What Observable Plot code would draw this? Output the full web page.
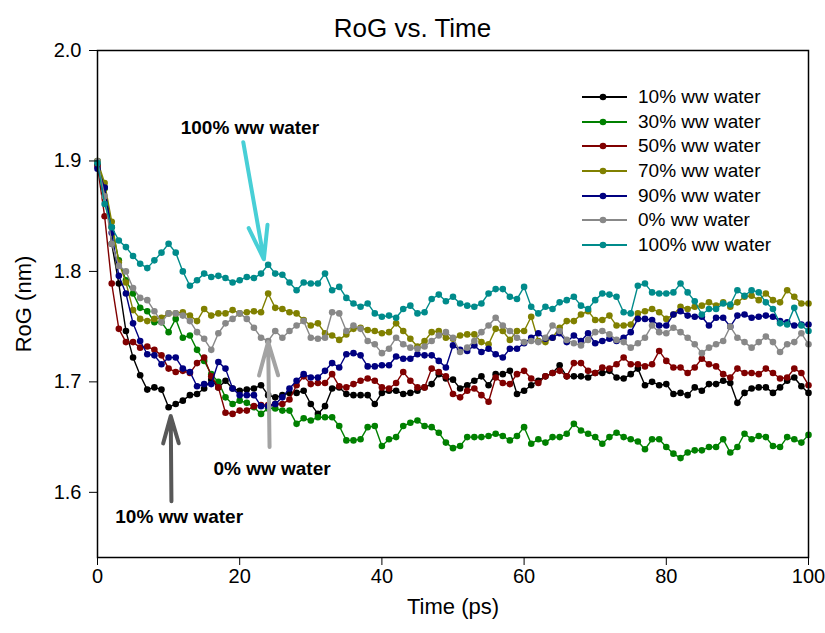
<!DOCTYPE html>
<html>
<head>
<meta charset="utf-8">
<script src="https://cdn.jsdelivr.net/npm/d3@7"></script>
<script src="https://cdn.jsdelivr.net/npm/@observablehq/plot@0.6"></script>
<style>
  body { margin: 0; background: #fff; font-family: Arial, "Liberation Sans", sans-serif; }
  #wrap { position: relative; width: 825px; height: 633px; overflow: hidden; }
  #title { position: absolute; left: 0; width: 825px; top: 15px; text-align: center; font-size: 26px; line-height: 26px; color: #000; }
  #chart { position: absolute; left: 0; top: 40px; }
  #legend { position: absolute; left: 582px; top: 85px; }
  .row { display: flex; align-items: center; height: 24.6px; font-size: 19px; color: #000; white-space: nowrap; }
  .row svg { display: block; margin-right: 11px; }
</style>
</head>
<body>
<div id="wrap">
  <div id="title">RoG vs. Time</div>
  <div id="chart"></div>
  <div id="legend"></div>
</div>
<script>
const time = [0,1,2,3,4,5,6,7,8,9,10,11,12,13,14,15,16,17,18,19,20,21,22,23,24,25,26,27,28,29,30,31,32,33,34,35,36,37,38,39,40,41,42,43,44,45,46,47,48,49,50,51,52,53,54,55,56,57,58,59,60,61,62,63,64,65,66,67,68,69,70,71,72,73,74,75,76,77,78,79,80,81,82,83,84,85,86,87,88,89,90,91,92,93,94,95,96,97,98,99,100];

const seriesNames = ["10% ww water","30% ww water","50% ww water","70% ww water","90% ww water","0% ww water","100% ww water"];
const seriesColors = ["#000000","#008000","#800000","#808000","#000080","#888888","#008b8b"];

const rog10 = [1.897,1.876,1.825,1.789,1.746,1.722,1.706,1.693,1.695,1.693,
1.677,1.680,1.683,1.688,1.689,1.694,1.702,1.695,1.701,1.694,
1.692,1.693,1.694,1.697,1.688,1.686,1.688,1.690,1.690,1.692,
1.680,1.671,1.678,1.694,1.695,1.689,1.688,1.688,1.688,1.680,
1.690,1.692,1.692,1.689,1.690,1.692,1.695,1.698,1.707,1.703,
1.702,1.694,1.697,1.701,1.705,1.697,1.707,1.707,1.710,1.689,
1.692,1.697,1.701,1.705,1.708,1.715,1.705,1.705,1.705,1.704,
1.708,1.708,1.710,1.704,1.703,1.707,1.712,1.697,1.700,1.697,
1.698,1.689,1.690,1.688,1.695,1.692,1.698,1.698,1.701,1.699,
1.681,1.690,1.694,1.695,1.695,1.690,1.695,1.701,1.704,1.696,
1.690];

const rog30 = [1.900,1.875,1.840,1.810,1.792,1.780,1.767,1.764,1.754,1.754,
1.745,1.757,1.740,1.742,1.729,1.719,1.707,1.700,1.686,1.680,
1.683,1.681,1.677,1.671,1.676,1.676,1.674,1.674,1.662,1.667,
1.665,1.668,1.668,1.668,1.660,1.647,1.647,1.648,1.659,1.660,
1.642,1.648,1.650,1.660,1.663,1.665,1.660,1.659,1.654,1.645,
1.640,1.642,1.650,1.650,1.650,1.651,1.653,1.651,1.647,1.651,
1.659,1.644,1.648,1.645,1.650,1.650,1.653,1.662,1.656,1.653,
1.650,1.644,1.650,1.654,1.650,1.648,1.646,1.639,1.648,1.648,
1.641,1.635,1.631,1.636,1.638,1.638,1.641,1.641,1.648,1.636,
1.641,1.653,1.648,1.651,1.650,1.642,1.641,1.650,1.648,1.645,
1.652];

const rog50 = [1.895,1.850,1.789,1.748,1.736,1.736,1.731,1.732,1.729,1.724,
1.712,1.709,1.710,1.708,1.717,1.722,1.705,1.695,1.672,1.671,
1.674,1.674,1.678,1.679,1.679,1.680,1.680,1.684,1.697,1.705,
1.698,1.699,1.699,1.707,1.696,1.695,1.698,1.701,1.703,1.701,
1.695,1.694,1.699,1.709,1.701,1.695,1.695,1.712,1.709,1.705,
1.689,1.686,1.692,1.694,1.688,1.682,1.704,1.699,1.698,1.707,
1.710,1.703,1.699,1.705,1.708,1.710,1.705,1.717,1.717,1.710,
1.708,1.713,1.712,1.716,1.722,1.716,1.716,1.714,1.716,1.728,
1.719,1.713,1.713,1.708,1.713,1.721,1.716,1.714,1.707,1.704,
1.712,1.708,1.708,1.707,1.712,1.708,1.703,1.704,1.712,1.708,
1.697];

const rog70 = [1.900,1.880,1.845,1.808,1.790,1.765,1.757,1.755,1.757,1.758,
1.762,1.762,1.763,1.760,1.755,1.766,1.760,1.762,1.762,1.765,
1.762,1.763,1.764,1.763,1.780,1.767,1.766,1.763,1.762,1.756,
1.751,1.753,1.744,1.742,1.738,1.743,1.748,1.749,1.747,1.746,
1.744,1.745,1.753,1.746,1.739,1.732,1.737,1.745,1.746,1.740,
1.739,1.742,1.743,1.743,1.736,1.734,1.748,1.746,1.738,1.746,
1.746,1.759,1.737,1.736,1.740,1.749,1.755,1.755,1.761,1.764,
1.756,1.756,1.760,1.751,1.751,1.752,1.762,1.764,1.766,1.763,
1.757,1.761,1.768,1.766,1.768,1.769,1.772,1.769,1.772,1.768,
1.772,1.777,1.778,1.774,1.780,1.774,1.772,1.783,1.777,1.771,
1.771];

const rog90 = [1.893,1.876,1.835,1.796,1.780,1.753,1.737,1.725,1.724,1.716,
1.722,1.722,1.712,1.709,1.696,1.698,1.698,1.718,1.712,1.694,
1.688,1.688,1.688,1.678,1.678,1.680,1.686,1.694,1.701,1.707,
1.704,1.704,1.710,1.717,1.713,1.725,1.726,1.724,1.714,1.714,
1.715,1.715,1.723,1.721,1.721,1.725,1.724,1.724,1.719,1.713,
1.733,1.729,1.728,1.733,1.727,1.730,1.725,1.722,1.730,1.730,
1.735,1.740,1.744,1.739,1.740,1.744,1.736,1.742,1.737,1.744,
1.735,1.737,1.739,1.737,1.740,1.745,1.757,1.757,1.756,1.751,
1.751,1.761,1.764,1.760,1.759,1.759,1.751,1.758,1.758,1.750,
1.760,1.761,1.758,1.759,1.760,1.759,1.755,1.754,1.751,1.752,
1.752];

const rog0 = [1.900,1.868,1.825,1.805,1.800,1.785,1.776,1.774,1.764,1.754,
1.762,1.762,1.760,1.755,1.745,1.739,1.729,1.744,1.753,1.757,
1.762,1.757,1.749,1.740,1.737,1.746,1.740,1.746,1.751,1.755,
1.740,1.739,1.740,1.763,1.762,1.746,1.751,1.748,1.737,1.734,
1.726,1.730,1.740,1.734,1.731,1.730,1.732,1.737,1.742,1.745,
1.740,1.727,1.731,1.737,1.745,1.751,1.758,1.751,1.746,1.740,
1.736,1.737,1.736,1.740,1.751,1.746,1.738,1.735,1.733,1.738,
1.745,1.746,1.743,1.738,1.736,1.731,1.735,1.740,1.751,1.745,
1.744,1.749,1.745,1.740,1.734,1.726,1.731,1.734,1.737,1.750,
1.740,1.736,1.731,1.736,1.741,1.736,1.727,1.734,1.736,1.744,
1.734];

const rog100 = [1.898,1.861,1.840,1.828,1.822,1.814,1.807,1.803,1.810,1.817,
1.825,1.817,1.800,1.787,1.792,1.798,1.795,1.796,1.794,1.790,
1.792,1.795,1.794,1.798,1.806,1.798,1.797,1.790,1.783,1.790,
1.789,1.789,1.798,1.783,1.786,1.776,1.771,1.768,1.771,1.762,
1.759,1.760,1.758,1.766,1.769,1.762,1.763,1.775,1.779,1.773,
1.777,1.771,1.769,1.768,1.771,1.780,1.784,1.784,1.777,1.775,
1.786,1.768,1.762,1.768,1.766,1.772,1.774,1.777,1.769,1.766,
1.774,1.780,1.779,1.777,1.763,1.762,1.787,1.789,1.781,1.780,
1.780,1.781,1.789,1.781,1.773,1.761,1.766,1.766,1.771,1.770,
1.783,1.778,1.783,1.781,1.772,1.766,1.753,1.752,1.767,1.751,
1.746];

const seriesValues = [rog10, rog30, rog50, rog70, rog90, rog0, rog100];

const xTicks = [0, 20, 40, 60, 80, 100];
const yTicks = [1.6, 1.7, 1.8, 1.9, 2.0];
const xDomain = [0, 100];
const yDomain = [1.541, 2.0];

// annotations (data units)
const annLabels = ["100% ww water", "0% ww water", "10% ww water"];
const annTextX = [11.7, 16.3, 2.5];
const annTextY = [1.930, 1.621, 1.578];
const arrowX1 = [20.5, 24.2, 10.4];
const arrowY1 = [1.917, 1.641, 1.592];
const arrowX2 = [23.4, 24.0, 10.3];
const arrowY2 = [1.811, 1.736, 1.669];
const arrowColors = ["#48cfd6", "#a3a3a3", "#585858"];

const marks = [];
seriesNames.forEach((name, i) => {
  const rows = time.map((t, j) => ({t, v: seriesValues[i][j]}));
  marks.push(Plot.line(rows, {x: "t", y: "v", stroke: seriesColors[i], strokeWidth: 1.4}));
  marks.push(Plot.dot(rows, {x: "t", y: "v", fill: seriesColors[i], r: 3.3, stroke: "none"}));
});
annLabels.forEach((lab, i) => {
  marks.push(Plot.arrow([i], {
    x1: () => arrowX1[i], y1: () => arrowY1[i], x2: () => arrowX2[i], y2: () => arrowY2[i],
    stroke: arrowColors[i], strokeWidth: 4, headLength: 13, headAngle: 32
  }));
});
const annRows = annLabels.map((label, i) => ({label, x: annTextX[i], y: annTextY[i]}));
marks.push(Plot.text(annRows, {x: "x", y: "y", text: "label", textAnchor: "start", lineAnchor: "middle", fontWeight: "bold", fontSize: 19, fill: "#000"}));

const chart = Plot.plot({
  width: 825,
  height: 593,
  marginTop: 10,
  marginBottom: 76,
  marginLeft: 97,
  marginRight: 17,
  style: {fontSize: "20px", fontFamily: "Arial, 'Liberation Sans', sans-serif", color: "#000", background: "#fff"},
  x: {domain: xDomain},
  y: {domain: yDomain},
  marks: [
    ...marks,
    Plot.frame({stroke: "#000", strokeWidth: 1.5}),
    Plot.axisX({ticks: xTicks, tickSize: 8, tickPadding: 3, tickFormat: d => String(d), label: null, fontSize: 20}),
    Plot.axisX({ticks: [], label: "Time (ps)", labelAnchor: "center", labelOffset: 56, labelArrow: "none", fontSize: 22}),
    Plot.axisY({ticks: yTicks, tickSize: 8, tickPadding: 8, tickFormat: d3.format(".1f"), label: null, fontSize: 20}),
    Plot.axisY({ticks: [], label: "RoG (nm)", labelAnchor: "center", labelOffset: 82, labelArrow: "none", fontSize: 22})
  ]
});
document.getElementById("chart").appendChild(chart);

// legend
const legend = document.getElementById("legend");
seriesNames.forEach((name, i) => {
  const row = document.createElement("div");
  row.className = "row";
  row.innerHTML = `<svg width="45" height="10"><line x1="0" x2="45" y1="5" y2="5" stroke="${seriesColors[i]}" stroke-width="1.8"/><circle cx="21" cy="5" r="3.3" fill="${seriesColors[i]}"/></svg><span>${name}</span>`;
  legend.appendChild(row);
});
</script>
</body>
</html>
